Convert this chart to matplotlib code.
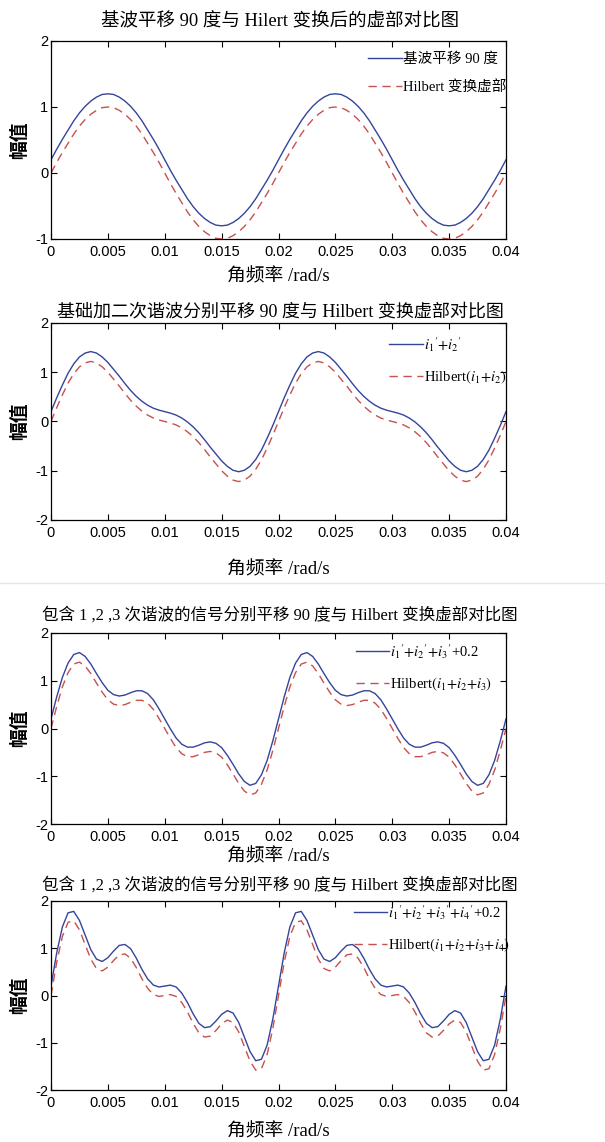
import numpy as np
import matplotlib
matplotlib.use('Agg')
import matplotlib.pyplot as plt
from matplotlib.lines import Line2D

plt.rcParams['mathtext.fontset'] = 'stix'

# sample times (rad/s axis), 0 .. 0.04
t = np.linspace(0, 0.04, 81)

# panel 1: fundamental shifted 90 deg / Hilbert imaginary part
p1_solid = [0.2, 0.36, 0.51, 0.65, 0.79, 0.91, 1.01, 1.09, 1.15, 1.19, 1.2, 1.19, 1.15, 1.09, 1.01, 0.91, 0.79, 0.65, 0.51, 0.36,
            0.2, 0.04, -0.11, -0.25, -0.39, -0.51, -0.61, -0.69, -0.75, -0.79, -0.8, -0.79, -0.75, -0.69, -0.61, -0.51, -0.39, -0.25, -0.11, 0.04,
            0.2, 0.36, 0.51, 0.65, 0.79, 0.91, 1.01, 1.09, 1.15, 1.19, 1.2, 1.19, 1.15, 1.09, 1.01, 0.91, 0.79, 0.65, 0.51, 0.36,
            0.2, 0.04, -0.11, -0.25, -0.39, -0.51, -0.61, -0.69, -0.75, -0.79, -0.8, -0.79, -0.75, -0.69, -0.61, -0.51, -0.39, -0.25, -0.11, 0.04,
            0.2]
p1_dash = [0, 0.16, 0.31, 0.45, 0.59, 0.71, 0.81, 0.89, 0.95, 0.99, 1.0, 0.99, 0.95, 0.89, 0.81, 0.71, 0.59, 0.45, 0.31, 0.16,
           0, -0.16, -0.31, -0.45, -0.59, -0.71, -0.81, -0.89, -0.95, -0.99, -1.0, -0.99, -0.95, -0.89, -0.81, -0.71, -0.59, -0.45, -0.31, -0.16,
           0, 0.16, 0.31, 0.45, 0.59, 0.71, 0.81, 0.89, 0.95, 0.99, 1.0, 0.99, 0.95, 0.89, 0.81, 0.71, 0.59, 0.45, 0.31, 0.16,
           0, -0.16, -0.31, -0.45, -0.59, -0.71, -0.81, -0.89, -0.95, -0.99, -1.0, -0.99, -0.95, -0.89, -0.81, -0.71, -0.59, -0.45, -0.31, -0.16,
           0]

# panel 2: fundamental + 2nd harmonic
p2_solid = [0.2, 0.48, 0.74, 0.98, 1.17, 1.31, 1.39, 1.42, 1.39, 1.31, 1.2, 1.06, 0.92, 0.77, 0.63, 0.51, 0.41, 0.33, 0.27, 0.23,
            0.2, 0.17, 0.13, 0.07, -0.01, -0.11, -0.23, -0.37, -0.52, -0.66, -0.8, -0.91, -0.99, -1.02, -0.99, -0.91, -0.77, -0.58, -0.34, -0.08,
            0.2, 0.48, 0.74, 0.98, 1.17, 1.31, 1.39, 1.42, 1.39, 1.31, 1.2, 1.06, 0.92, 0.77, 0.63, 0.51, 0.41, 0.33, 0.27, 0.23,
            0.2, 0.17, 0.13, 0.07, -0.01, -0.11, -0.23, -0.37, -0.52, -0.66, -0.8, -0.91, -0.99, -1.02, -0.99, -0.91, -0.77, -0.58, -0.34, -0.08,
            0.2]
p2_dash = [0, 0.28, 0.54, 0.78, 0.97, 1.11, 1.19, 1.22, 1.19, 1.11, 1.0, 0.86, 0.72, 0.57, 0.43, 0.31, 0.21, 0.13, 0.07, 0.03,
           0, -0.03, -0.07, -0.13, -0.21, -0.31, -0.43, -0.57, -0.72, -0.86, -1.0, -1.11, -1.19, -1.22, -1.19, -1.11, -0.97, -0.78, -0.54, -0.28,
           0, 0.28, 0.54, 0.78, 0.97, 1.11, 1.19, 1.22, 1.19, 1.11, 1.0, 0.86, 0.72, 0.57, 0.43, 0.31, 0.21, 0.13, 0.07, 0.03,
           0, -0.03, -0.07, -0.13, -0.21, -0.31, -0.43, -0.57, -0.72, -0.86, -1.0, -1.11, -1.19, -1.22, -1.19, -1.11, -0.97, -0.78, -0.54, -0.28,
           0]

# panel 3: 1, 2, 3 harmonics
p3_solid = [0.2, 0.66, 1.07, 1.37, 1.55, 1.59, 1.51, 1.35, 1.15, 0.96, 0.80, 0.71, 0.68, 0.70, 0.75, 0.79, 0.79, 0.73, 0.60, 0.41,
            0.2, -0.01, -0.20, -0.33, -0.39, -0.39, -0.35, -0.30, -0.28, -0.31, -0.40, -0.56, -0.75, -0.95, -1.11, -1.19, -1.15, -0.97, -0.67, -0.26,
            0.2, 0.66, 1.07, 1.37, 1.55, 1.59, 1.51, 1.35, 1.15, 0.96, 0.80, 0.71, 0.68, 0.70, 0.75, 0.79, 0.79, 0.73, 0.60, 0.41,
            0.2, -0.01, -0.20, -0.33, -0.39, -0.39, -0.35, -0.30, -0.28, -0.31, -0.40, -0.56, -0.75, -0.95, -1.11, -1.19, -1.15, -0.97, -0.67, -0.26,
            0.2]
p3_dash = [0, 0.46, 0.87, 1.17, 1.35, 1.39, 1.31, 1.15, 0.95, 0.76, 0.60, 0.51, 0.48, 0.50, 0.55, 0.59, 0.59, 0.53, 0.40, 0.21,
           0, -0.21, -0.40, -0.53, -0.59, -0.59, -0.55, -0.50, -0.48, -0.51, -0.60, -0.76, -0.95, -1.15, -1.31, -1.39, -1.35, -1.17, -0.87, -0.46,
           0, 0.46, 0.87, 1.17, 1.35, 1.39, 1.31, 1.15, 0.95, 0.76, 0.60, 0.51, 0.48, 0.50, 0.55, 0.59, 0.59, 0.53, 0.40, 0.21,
           0, -0.21, -0.40, -0.53, -0.59, -0.59, -0.55, -0.50, -0.48, -0.51, -0.60, -0.76, -0.95, -1.15, -1.31, -1.39, -1.35, -1.17, -0.87, -0.46,
           0]

# panel 4: 1, 2, 3, 4 harmonics
p4_solid = [0.2, 0.90, 1.45, 1.75, 1.78, 1.59, 1.28, 0.97, 0.77, 0.72, 0.80, 0.94, 1.06, 1.08, 0.99, 0.79, 0.55, 0.35, 0.22, 0.18,
            0.2, 0.22, 0.18, 0.05, -0.15, -0.39, -0.59, -0.68, -0.66, -0.54, -0.40, -0.32, -0.37, -0.57, -0.88, -1.19, -1.38, -1.35, -1.05, -0.50,
            0.2, 0.90, 1.45, 1.75, 1.78, 1.59, 1.28, 0.97, 0.77, 0.72, 0.80, 0.94, 1.06, 1.08, 0.99, 0.79, 0.55, 0.35, 0.22, 0.18,
            0.2, 0.22, 0.18, 0.05, -0.15, -0.39, -0.59, -0.68, -0.66, -0.54, -0.40, -0.32, -0.37, -0.57, -0.88, -1.19, -1.38, -1.35, -1.05, -0.50,
            0.2]
p4_dash = [0, 0.70, 1.25, 1.55, 1.58, 1.39, 1.08, 0.77, 0.57, 0.52, 0.60, 0.74, 0.86, 0.88, 0.79, 0.59, 0.35, 0.15, 0.02, -0.02,
           0, 0.02, -0.02, -0.15, -0.35, -0.59, -0.79, -0.88, -0.86, -0.74, -0.60, -0.52, -0.57, -0.77, -1.08, -1.39, -1.58, -1.55, -1.25, -0.70,
           0, 0.70, 1.25, 1.55, 1.58, 1.39, 1.08, 0.77, 0.57, 0.52, 0.60, 0.74, 0.86, 0.88, 0.79, 0.59, 0.35, 0.15, 0.02, -0.02,
           0, 0.02, -0.02, -0.15, -0.35, -0.59, -0.79, -0.88, -0.86, -0.74, -0.60, -0.52, -0.57, -0.77, -1.08, -1.39, -1.58, -1.55, -1.25, -0.70,
           0]

titles = ['基波平移 90 度与 Hilert 变换后的虚部对比图',
          '基础加二次谐波分别平移 90 度与 Hilbert 变换虚部对比图',
          '包含 1 ,2 ,3 次谐波的信号分别平移 90 度与 Hilbert 变换虚部对比图',
          '包含 1 ,2 ,3 次谐波的信号分别平移 90 度与 Hilbert 变换虚部对比图']
solid_labels = ['基波平移 90 度',
                r"${i_1}'{+}{i_2}'$",
                r"${i_1}'{+}{i_2}'{+}{i_3}'$+0.2",
                r"${i_1}'{+}{i_2}'{+}{i_3}'{+}{i_4}'$+0.2"]
dash_labels = ['Hilbert 变换虚部',
               r'Hilbert$(i_1{+}i_2)$',
               r'Hilbert$(i_1{+}i_2{+}i_3)$',
               r'Hilbert$(i_1{+}i_2{+}i_3{+}i_4)$']
xticks = [0, 0.005, 0.01, 0.015, 0.02, 0.025, 0.03, 0.035, 0.04]
xticklabels = ['0', '0.005', '0.01', '0.015', '0.02', '0.025', '0.03', '0.035', '0.04']
ylims = [(-1, 2), (-2, 2), (-2, 2), (-2, 2)]

W, H = 605, 1142
# axes boxes in pixels: top, bottom
boxes = [(41, 239), (323, 520), (633, 824), (901, 1090)]
title_y = [22, 312, 615, 885]
xlab_y = [277, 570, 857, 1132]
title_size = [13.3, 13, 11.9, 11.9]
# legend anchor (right, top) in pixels
leg_anchor = [(506, 52), (506, 335), (492, 642), (510, 903)]

solids = [p1_solid, p2_solid, p3_solid, p4_solid]
dashes = [p1_dash, p2_dash, p3_dash, p4_dash]

blue = '#35449a'
red = '#c8504f'
mixed = ['Liberation Serif', 'Noto Sans CJK SC']
tickfont = ['Liberation Sans Narrow', 'Liberation Sans']

fig = plt.figure(figsize=(W / 100, H / 100), dpi=100)
left, right = 51, 506
for i in range(4):
    top, bot = boxes[i]
    ax = fig.add_axes([left / W, 1 - bot / H, (right - left) / W, (bot - top) / H])
    ax.plot(t, solids[i], color=blue, lw=1.0, label=solid_labels[i])
    ax.plot(t, dashes[i], color=red, lw=1.0, ls=(0, (6, 4)), label=dash_labels[i])
    ax.set_xlim(0, 0.04)
    ax.set_ylim(*ylims[i])
    ax.set_xticks(xticks)
    ax.set_xticklabels(xticklabels)
    lo, hi = ylims[i]
    ax.set_yticks(list(range(lo, hi + 1)))
    ax.set_yticklabels([str(v) for v in range(lo, hi + 1)])
    for lab in ax.get_xticklabels() + ax.get_yticklabels():
        lab.set_family(tickfont)
        lab.set_fontsize(10.5)
    ax.tick_params(direction='in', top=True, right=True, length=4, width=0.8)
    ax.tick_params(axis='x', pad=4)
    ax.tick_params(axis='y', pad=2)
    for s in ax.spines.values():
        s.set_linewidth(0.9)
    ax.legend(loc='upper right', frameon=False,
              bbox_to_anchor=(leg_anchor[i][0] / W, 1 - leg_anchor[i][1] / H),
              bbox_transform=fig.transFigure,
              prop={'family': mixed, 'size': 10.5},
              handlelength=2.3, handletextpad=0.05, labelspacing=1.0,
              borderaxespad=0, borderpad=0)
    fig.text(280 / W, 1 - title_y[i] / H, titles[i], ha='center', va='center',
             family=mixed, fontsize=title_size[i])
    fig.text(278 / W, 1 - xlab_y[i] / H, '角频率 /rad/s', ha='center', va='center',
             family=mixed, fontsize=13.5)
    fig.text(20 / W, 1 - (top + bot) / 2 / H, '幅值', ha='center', va='center',
             rotation=90, family=['Noto Sans CJK SC'], fontsize=13.5, fontweight='bold')

# faint separator between the two halves of the page
fig.add_artist(Line2D([0, 1], [1 - 583 / H, 1 - 583 / H], color='#e6e6e6', lw=1))

fig.savefig('out.png', dpi=100)
